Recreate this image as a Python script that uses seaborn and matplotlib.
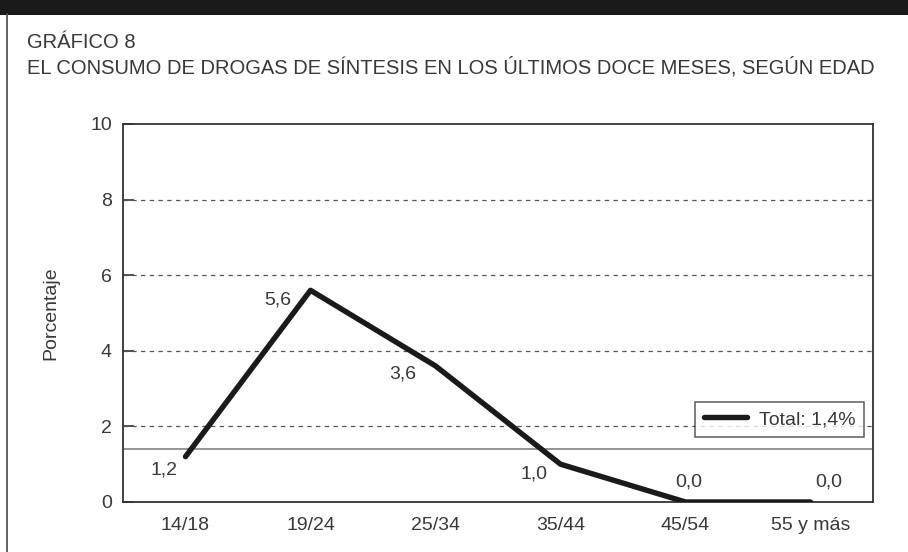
import matplotlib
matplotlib.use("Agg")
import matplotlib.pyplot as plt
import seaborn as sns
import pandas as pd
from matplotlib.lines import Line2D
from matplotlib.patches import Rectangle

# datos
edades = ["14/18", "19/24", "25/34", "35/44", "45/54", "55 y más"]
porcentajes = [1.2, 5.6, 3.6, 1.0, 0.0, 0.0]
etiquetas = ["1,2", "5,6", "3,6", "1,0", "0,0", "0,0"]
total = 1.4
yticks = [0, 2, 4, 6, 8, 10]

titulo1 = "GRÁFICO 8"
titulo2 = "EL CONSUMO DE DROGAS DE SÍNTESIS EN LOS ÚLTIMOS DOCE MESES, SEGÚN EDAD"

sns.set_style("white")
plt.rcParams['font.family'] = ['Liberation Sans', 'DejaVu Sans']
txt = "#383838"
fs = 14

df = pd.DataFrame({"edad": edades, "pct": porcentajes})

fig = plt.figure(figsize=(9.08, 5.52), dpi=100)
ax = fig.add_axes([123/908, 50/552, 750/908, 378/552])

ax.axhline(total, color="#777777", lw=1.1, zorder=1)
for v in yticks[1:-1]:
    ax.axhline(v, color="#555555", lw=0.9, ls=(0, (3.5, 3.5)), zorder=1)

sns.lineplot(data=df, x="edad", y="pct", color="#1a1a1a", lw=3.9,
             solid_capstyle="round", ax=ax, label="Total: 1,4%", zorder=3)

# posiciones de las etiquetas (px respecto al punto)
offs = [(-21, -13), (-33, -10), (-33, -8), (-26, -10), (3, 20), (18, 20)]
for i, (v, t) in enumerate(zip(porcentajes, etiquetas)):
    ax.annotate(t, (i, v), xytext=offs[i], textcoords="offset pixels",
                ha="center", va="center", fontsize=fs, color=txt)

ax.set_xlim(-0.5, len(edades) - 0.5)
ax.set_ylim(0, 10)
ax.set_yticks(yticks)
ax.set_xticks(range(len(edades)))
ax.set_xticklabels(edades)
ax.set_xticks([i + 0.5 for i in range(len(edades) - 1)], minor=True)
ax.tick_params(axis="x", which="major", length=0, pad=11, labelsize=fs, labelcolor=txt)
ax.tick_params(axis="x", which="minor", direction="in", length=10, width=1.2, color="#333333")
ax.tick_params(axis="y", direction="in", length=8, width=1.2, color="#333333",
               pad=8, labelsize=fs, labelcolor=txt, left=True)
ax.set_xlabel("")
ax.set_ylabel("Porcentaje", fontsize=fs, color=txt, labelpad=22)

for s in ax.spines.values():
    s.set_color("#333333")
    s.set_linewidth(1.3)

leg = ax.legend(loc="lower right", bbox_to_anchor=(741/750, (502-437)/378),
                fontsize=fs, frameon=True, fancybox=False, handlelength=2.2,
                borderpad=0.45, handletextpad=0.6, borderaxespad=0)
leg.get_frame().set_edgecolor("#333333")
leg.get_frame().set_linewidth(1.1)
for t in leg.get_texts():
    t.set_color(txt)

# marco de la figura
fig.add_artist(Rectangle((0, 1 - 15/552), 1, 15/552, transform=fig.transFigure,
                         color="#1a1a1a", lw=0))
fig.add_artist(Line2D([7/908, 7/908], [0, 1 - 14/552], transform=fig.transFigure,
                      color="#555555", lw=1.3))

fig.text(27/908, 1 - 43/552, titulo1, fontsize=14.5, color=txt, va="center", ha="left")
fig.text(27/908, 1 - 67/552, titulo2, fontsize=14.5, color=txt, va="center", ha="left")

fig.savefig("out.png", dpi=100)
